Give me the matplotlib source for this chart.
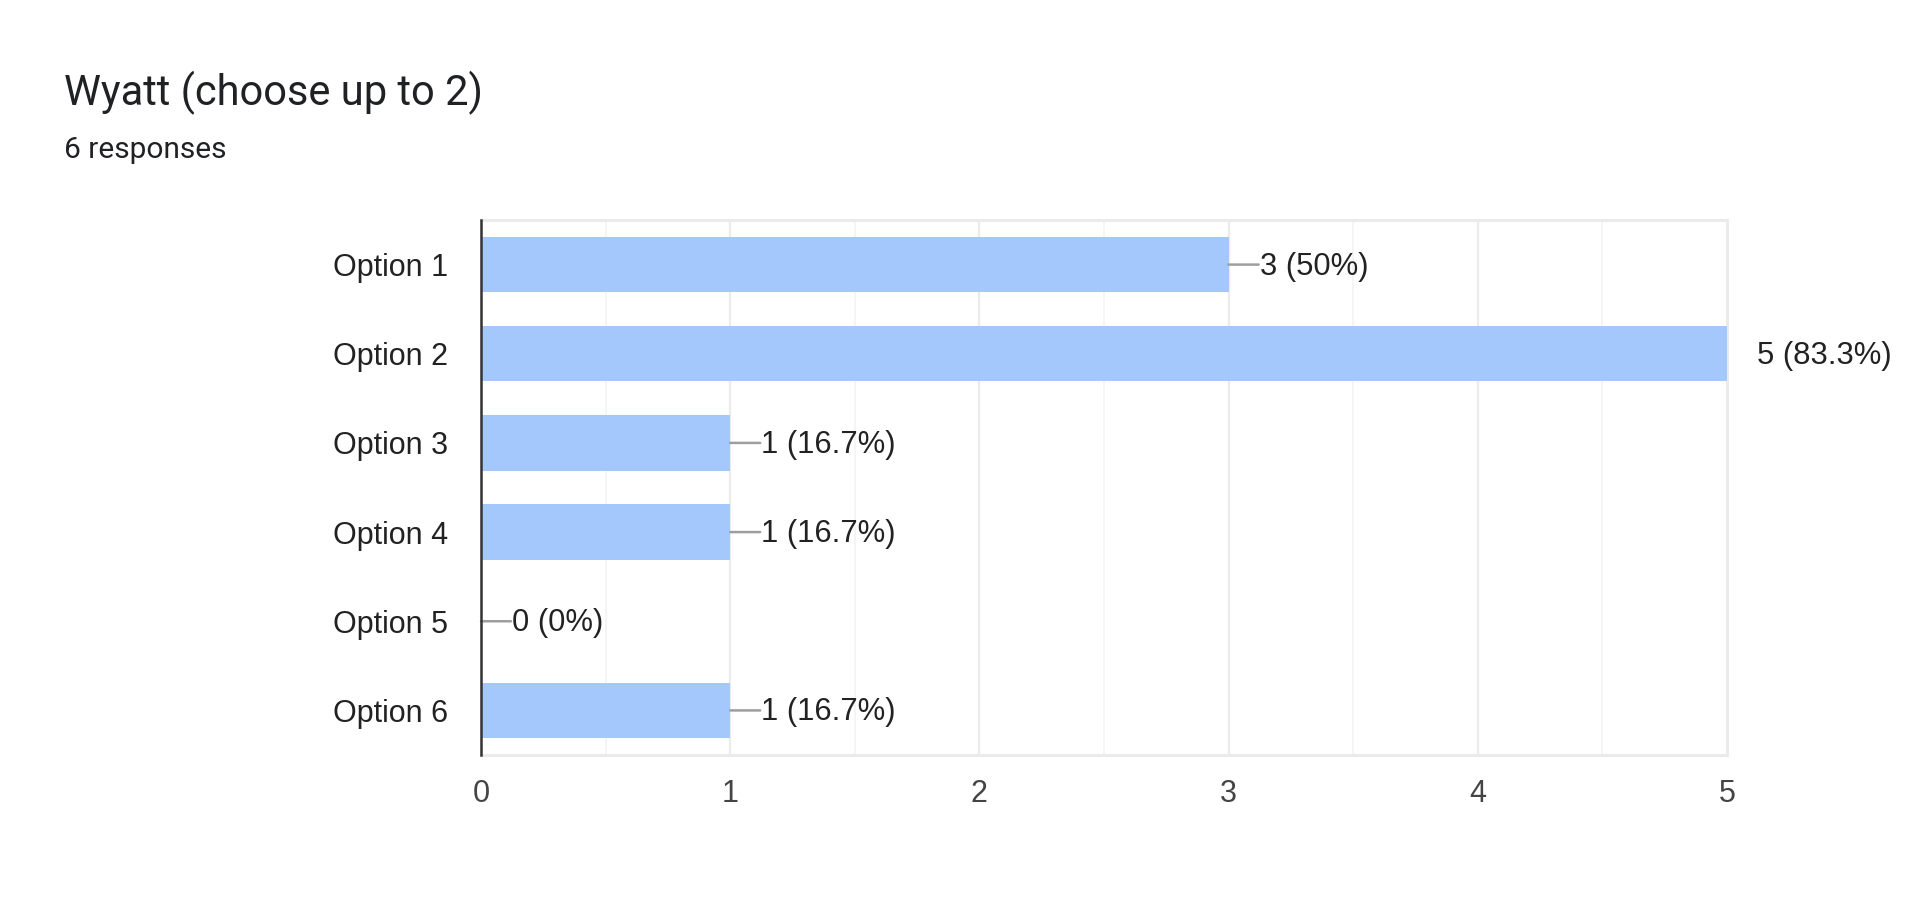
import matplotlib
matplotlib.use("Agg")
import matplotlib.pyplot as plt
import numpy as np

# survey results
options = ["Option 1", "Option 2", "Option 3", "Option 4", "Option 5", "Option 6"]
counts = [3, 5, 1, 1, 0, 1]
percents = ["50%", "83.3%", "16.7%", "16.7%", "0%", "16.7%"]
x_ticks = [0, 1, 2, 3, 4, 5]

title = "Wyatt (choose up to 2)"
subtitle = "6 responses"

bar_color = "#a4c7fc"
W, H = 1920, 913

fig = plt.figure(figsize=(W / 100, H / 100), dpi=100)
fig.patch.set_facecolor("white")

fig.text(64 / W, 1 - 105 / H, title, fontsize=30, family="Roboto",
         color="#202124", va="baseline", ha="left")
fig.text(64 / W, 1 - 158 / H, subtitle, fontsize=21.5, family="Roboto",
         color="#202124", va="baseline", ha="left")

ax = fig.add_axes([481 / W, 1 - 755 / H, (1727 - 481) / W, (755 - 220) / H])

y = np.arange(len(options))
ax.barh(y, counts, height=0.62, color=bar_color, zorder=3)

ax.set_xlim(0, 5)
ax.set_ylim(len(options) - 0.5, -0.5)

# grid
for v in np.arange(0.5, 5, 1.0):
    ax.axvline(v, color="#f4f4f4", lw=1.2, zorder=1)
for v in x_ticks[1:-1]:
    ax.axvline(v, color="#ebebeb", lw=1.6, zorder=1)

for side in ["top", "right", "bottom"]:
    ax.spines[side].set_color("#ebebeb")
    ax.spines[side].set_linewidth(2.2)
ax.spines["left"].set_color("#333333")
ax.spines["left"].set_linewidth(1.8)
ax.spines["left"].set_zorder(5)

ax.set_xticks(x_ticks)
ax.set_xticklabels([str(t) for t in x_ticks], fontsize=22, family="Liberation Sans",
                   color="#444444")
ax.set_yticks(y)
ax.set_yticklabels(options, fontsize=22, family="Liberation Sans", color="#222222")
ax.tick_params(axis="x", length=0, pad=17)
ax.tick_params(axis="y", length=0, pad=24)

# value labels with connector lines
for yi, c, p in zip(y, counts, percents):
    label = f"{c} ({p})"
    if c < 5:
        ax.annotate("", xy=(c, yi), xytext=(30, 0), textcoords="offset pixels",
                    annotation_clip=False,
                    arrowprops=dict(arrowstyle="-", color="#9e9e9e", lw=1.8,
                                    shrinkA=0, shrinkB=0))
    ax.annotate(label, xy=(c, yi), xytext=(31 if c < 5 else 30, -2),
                textcoords="offset pixels", ha="left", va="center",
                fontsize=22.3, family="Liberation Sans", color="#222222",
                annotation_clip=False)

fig.savefig("out.png", dpi=100, facecolor="white")
